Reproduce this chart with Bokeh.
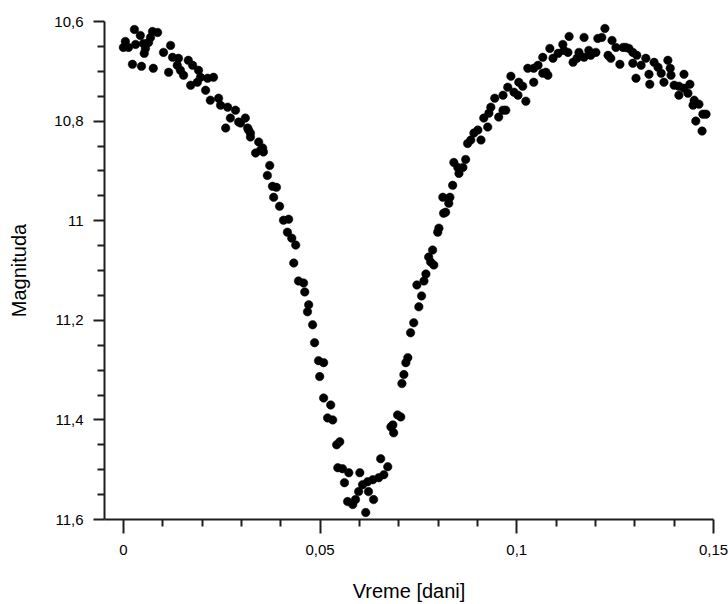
from bokeh.plotting import figure
from bokeh.models import Range1d, FixedTicker, CustomJSTickFormatter
from bokeh.embed import file_html
from bokeh.resources import INLINE

# Time [days]
vreme = [
    0.0028, 0.0043, 0.0005, 0.0000, 0.0013, 0.0031, 0.0051, 0.0056, 0.0053, 0.0074,
    0.0087, 0.0069, 0.0064, 0.0023, 0.0046, 0.0076, 0.0120, 0.0102, 0.0125, 0.0140,
    0.0165, 0.0176, 0.0137, 0.0115, 0.0145, 0.0153, 0.0191, 0.0196, 0.0171, 0.0188,
    0.0209, 0.0229, 0.0214, 0.0221, 0.0242, 0.0247, 0.0265, 0.0285, 0.0272, 0.0260,
    0.0293, 0.0310, 0.0316, 0.0323, 0.0344, 0.0349,
    0.0298, 0.0318, 0.0323, 0.0354, 0.0336, 0.0356, 0.0372, 0.0366, 0.0379, 0.0389,
    0.0382, 0.0397, 0.0407, 0.0420, 0.0417, 0.0428, 0.0438, 0.0433, 0.0445, 0.0458,
    0.0461, 0.0471, 0.0468,
    0.0481, 0.0486, 0.0496, 0.0509, 0.0499, 0.0509, 0.0527, 0.0519, 0.0532, 0.0542,
    0.0550, 0.0545, 0.0557, 0.0573, 0.0562, 0.0601, 0.0570, 0.0583, 0.0590, 0.0598,
    0.0608, 0.0621, 0.0623, 0.0636, 0.0616, 0.0634, 0.0649, 0.0654, 0.0672, 0.0662,
    0.0680, 0.0687, 0.0685, 0.0697, 0.0705, 0.0708,
    0.0713, 0.0718, 0.0723, 0.0730, 0.0738, 0.0751, 0.0758, 0.0746, 0.0764, 0.0769,
    0.0781, 0.0789,
    0.0776, 0.0786, 0.0799, 0.0802, 0.0814, 0.0819, 0.0812, 0.0830, 0.0827, 0.0837,
    0.0840, 0.0850, 0.0853, 0.0863, 0.0870, 0.0875, 0.0883, 0.0891, 0.0901, 0.0909,
    0.0916, 0.0926, 0.0929, 0.0934, 0.0944, 0.0954, 0.0965, 0.0972, 0.0965, 0.0977,
    0.0985, 0.0993, 0.1003, 0.1005, 0.1015, 0.1023, 0.1028, 0.1043, 0.1054, 0.1066,
    0.1079,
    0.1043, 0.1074, 0.1066, 0.1084, 0.1092, 0.1105, 0.1117, 0.1120, 0.1130, 0.1133,
    0.1143, 0.1153, 0.1158, 0.1171, 0.1171, 0.1183, 0.1188, 0.1201, 0.1206, 0.1216,
    0.1224, 0.1232, 0.1239, 0.1242, 0.1252, 0.1262, 0.1270, 0.1277, 0.1285, 0.1295,
    0.1295, 0.1305, 0.1303, 0.1316, 0.1328, 0.1336, 0.1338, 0.1349, 0.1359, 0.1367,
    0.1374, 0.1384, 0.1390, 0.1392, 0.1400, 0.1412, 0.1412, 0.1425, 0.1425, 0.1440,
    0.1435, 0.1451, 0.1448, 0.1463, 0.1473, 0.1481, 0.1455, 0.1471,
]

# Magnitude
magnituda = [
    10.616, 10.628, 10.640, 10.652, 10.652, 10.646, 10.644, 10.654, 10.664, 10.620,
    10.622, 10.632, 10.642, 10.686, 10.690, 10.694, 10.648, 10.662, 10.672, 10.674,
    10.678, 10.688, 10.688, 10.702, 10.698, 10.708, 10.698, 10.712, 10.728, 10.722,
    10.738, 10.712, 10.714, 10.758, 10.754, 10.768, 10.772, 10.778, 10.794, 10.814,
    10.802, 10.794, 10.814, 10.824, 10.842, 10.858,
    10.804, 10.818, 10.832, 10.854, 10.864, 10.862, 10.889, 10.909, 10.931, 10.933,
    10.953, 10.971, 10.999, 10.997, 11.023, 11.035, 11.049, 11.085, 11.121, 11.125,
    11.143, 11.169, 11.183,
    11.209, 11.245, 11.281, 11.285, 11.313, 11.356, 11.370, 11.396, 11.400, 11.450,
    11.444, 11.496, 11.498, 11.506, 11.526, 11.506, 11.564, 11.570, 11.560, 11.544,
    11.530, 11.524, 11.544, 11.560, 11.586, 11.520, 11.516, 11.478, 11.494, 11.510,
    11.414, 11.426, 11.410, 11.390, 11.394, 11.327,
    11.309, 11.285, 11.275, 11.225, 11.205, 11.173, 11.151, 11.129, 11.121, 11.107,
    11.083, 11.089,
    11.073, 11.059, 11.023, 11.015, 10.985, 10.983, 10.953, 10.953, 10.965, 10.929,
    10.883, 10.893, 10.905, 10.893, 10.877, 10.845, 10.838, 10.824, 10.818, 10.838,
    10.794, 10.812, 10.784, 10.772, 10.754, 10.792, 10.778, 10.778, 10.748, 10.732,
    10.710, 10.742, 10.748, 10.722, 10.730, 10.760, 10.694, 10.722, 10.688, 10.704,
    10.708,
    10.694, 10.702, 10.672, 10.654, 10.674, 10.664, 10.646, 10.658, 10.662, 10.630,
    10.682, 10.674, 10.662, 10.632, 10.672, 10.658, 10.668, 10.662, 10.634, 10.632,
    10.614, 10.668, 10.674, 10.638, 10.652, 10.686, 10.652, 10.652, 10.654, 10.662,
    10.684, 10.668, 10.714, 10.688, 10.674, 10.706, 10.726, 10.682, 10.692, 10.704,
    10.722, 10.678, 10.694, 10.708, 10.728, 10.748, 10.730, 10.706, 10.734, 10.726,
    10.744, 10.758, 10.768, 10.766, 10.786, 10.786, 10.800, 10.820,
]

x_major = [0, 0.05, 0.1, 0.15]
x_minor = [0.01, 0.02, 0.03, 0.04, 0.06, 0.07, 0.08, 0.09, 0.11, 0.12, 0.13, 0.14]
y_major = [10.6, 10.8, 11.0, 11.2, 11.4, 11.6]
y_minor = [10.65, 10.7, 10.75, 10.85, 10.9, 10.95, 11.05, 11.1, 11.15,
           11.25, 11.3, 11.35, 11.45, 11.5, 11.55]

FONT = "Liberation Sans"

p = figure(width=728, height=604, output_backend="svg", toolbar_location=None,
           x_range=Range1d(-0.0048, 0.15), y_range=Range1d(11.6, 10.6),
           min_border_left=104, min_border_right=15, min_border_top=21,
           min_border_bottom=84)
p.outline_line_color = None
p.xgrid.visible = False
p.ygrid.visible = False
p.background_fill_color = "white"
p.border_fill_color = "white"

p.scatter(vreme, magnituda, size=8.5, fill_color="black", line_color="black",
          line_width=0.5)

fmt = CustomJSTickFormatter(code="""
var s = tick.toFixed(2).replace(/0+$/, '').replace(/\\.$/, '');
return s.replace('.', ',');
""")

for ax, maj, mnr, tout in ((p.xaxis[0], x_major, x_minor, 14),
                           (p.yaxis[0], y_major, y_minor, 11)):
    ax.ticker = FixedTicker(ticks=maj, minor_ticks=mnr)
    ax.formatter = fmt
    ax.axis_line_color = "#1e1e1e"
    ax.axis_line_width = 2
    ax.major_tick_line_color = "#1e1e1e"
    ax.minor_tick_line_color = "#1e1e1e"
    ax.major_tick_line_width = 2
    ax.minor_tick_line_width = 2
    ax.major_tick_in = 0
    ax.major_tick_out = tout
    ax.minor_tick_in = 0
    ax.minor_tick_out = 7
    ax.major_label_text_font = FONT
    ax.major_label_text_font_size = "15px"
    ax.major_label_text_color = "black"
    ax.axis_label_text_font = FONT
    ax.axis_label_text_font_style = "normal"
    ax.axis_label_text_font_size = "20px"
    ax.axis_label_text_color = "black"

p.xaxis.axis_label = "Vreme [dani]"
p.yaxis.axis_label = "Magnituda"
p.xaxis.major_label_standoff = 11
p.xaxis.axis_label_standoff = 22
p.yaxis.major_label_standoff = 10
p.yaxis.axis_label_standoff = 21

open("out.html", "w").write(file_html(p, INLINE))
